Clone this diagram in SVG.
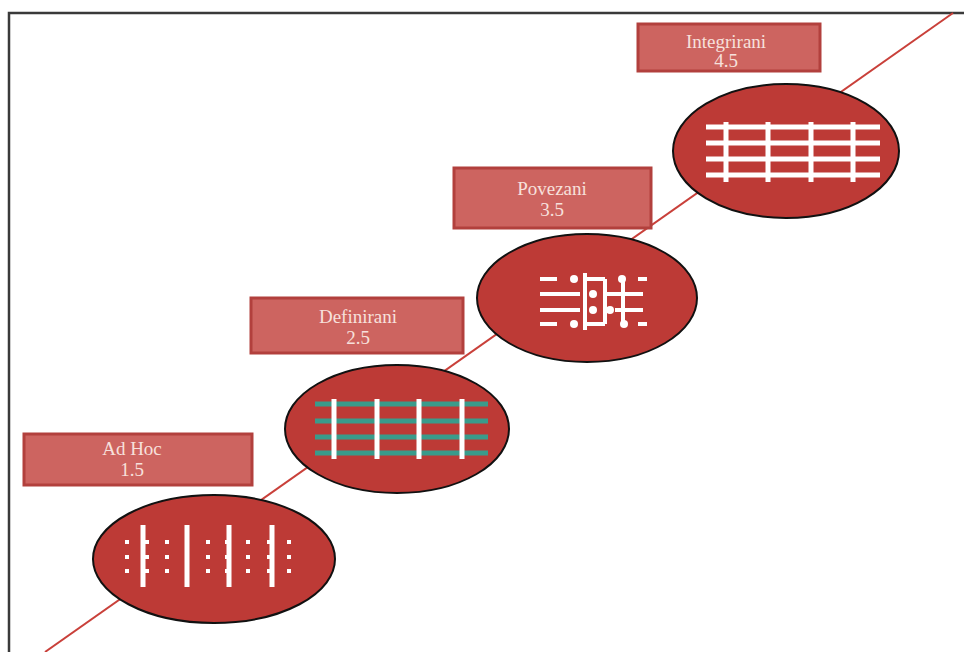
<svg xmlns="http://www.w3.org/2000/svg" width="964" height="652" viewBox="0 0 964 652">
<style>
.frame{stroke:#3a3a3a;stroke-width:2.5;fill:none}
.diag{stroke:#c9403a;stroke-width:2;fill:none}
.ell{fill:#bd3a36;stroke:#111;stroke-width:2}
.box{fill:#cd6460;stroke:#b2403d;stroke-width:3}
.lbl{font-family:"Liberation Serif","Times New Roman",serif;font-size:19px;fill:#f7e0dc;text-anchor:middle}
.w{stroke:#fff;stroke-width:5;fill:none}
.wt{stroke:#fff;stroke-width:4;fill:none}
.t{stroke:#3a9b8b;stroke-width:5;fill:none}
.dot{fill:#fff}
</style>
<rect width="964" height="652" fill="#fff"/>
<g id="frame">
<path class="frame" d="M9,652 V13 H964"/>
</g>
<g id="connectors">
<line class="diag" x1="953" y1="13" x2="45" y2="652"/>
</g>
<g id="adhoc-label">
<rect class="box" x="24" y="434" width="228" height="51"/>
<text class="lbl" x="132" y="455">Ad Hoc</text>
<text class="lbl" x="132" y="476">1.5</text>
</g>
<g id="definirani-label">
<rect class="box" x="251" y="298" width="212" height="55"/>
<text class="lbl" x="358" y="323">Definirani</text>
<text class="lbl" x="358" y="344">2.5</text>
</g>
<g id="povezani-label">
<rect class="box" x="454" y="168" width="197" height="60"/>
<text class="lbl" x="552" y="195">Povezani</text>
<text class="lbl" x="552" y="216">3.5</text>
</g>
<g id="integrirani-label">
<rect class="box" x="638" y="24" width="182" height="47"/>
<text class="lbl" x="726" y="48">Integrirani</text>
<text class="lbl" x="726" y="67">4.5</text>
</g>
<g id="adhoc">
<ellipse class="ell" cx="214" cy="559" rx="121" ry="64"/>
<path class="w" d="M143,525 V587 M187,525 V587 M229,525 V587 M272,525 V587"/>
<g class="dot">
<rect x="125" y="540" width="4" height="4"/><rect x="125" y="555" width="4" height="4"/><rect x="125" y="569" width="4" height="4"/>
<rect x="145" y="540" width="4" height="4"/><rect x="145" y="555" width="4" height="4"/><rect x="145" y="569" width="4" height="4"/>
<rect x="165" y="540" width="4" height="4"/><rect x="165" y="555" width="4" height="4"/><rect x="165" y="569" width="4" height="4"/>
<rect x="206" y="540" width="4" height="4"/><rect x="206" y="555" width="4" height="4"/><rect x="206" y="569" width="4" height="4"/>
<rect x="225" y="540" width="4" height="4"/><rect x="225" y="555" width="4" height="4"/><rect x="225" y="569" width="4" height="4"/>
<rect x="246" y="540" width="4" height="4"/><rect x="246" y="555" width="4" height="4"/><rect x="246" y="569" width="4" height="4"/>
<rect x="267" y="540" width="4" height="4"/><rect x="267" y="555" width="4" height="4"/><rect x="267" y="569" width="4" height="4"/>
<rect x="287" y="540" width="4" height="4"/><rect x="287" y="555" width="4" height="4"/><rect x="287" y="569" width="4" height="4"/>
</g>
</g>
<g id="definirani">
<ellipse class="ell" cx="397" cy="429" rx="112" ry="64"/>
<path class="t" d="M315,404 H488 M315,421 H488 M315,437 H488 M315,453 H488"/>
<path class="w" d="M334,399 V459 M377,399 V459 M419,399 V459 M462,399 V459"/>
</g>
<g id="povezani">
<ellipse class="ell" cx="587" cy="298" rx="110" ry="64"/>
<path class="wt" d="M540,279 H557 M540,294 H580 M540,310 H580 M540,324 H557 M585,273 V330 M585,279 H605 M585,324 H605 M605,279 V324 M605,294 H643 M615,310 H643 M623,279 V324 M638,279 H647 M638,324 H647"/>
<g class="dot">
<circle cx="574" cy="279" r="4"/><circle cx="574" cy="324" r="4"/>
<circle cx="593" cy="294" r="4"/><circle cx="593" cy="310" r="4"/>
<circle cx="610" cy="310" r="4"/><circle cx="622" cy="279" r="4"/><circle cx="624" cy="324" r="4"/>
</g>
</g>
<g id="integrirani">
<ellipse class="ell" cx="786" cy="151" rx="113" ry="67"/>
<path class="w" d="M706,127 H880 M706,143 H880 M706,159 H880 M706,175 H880"/>
<path class="w" d="M726,122 V182 M768,122 V182 M811,122 V182 M853,122 V182"/>
</g>
</svg>
